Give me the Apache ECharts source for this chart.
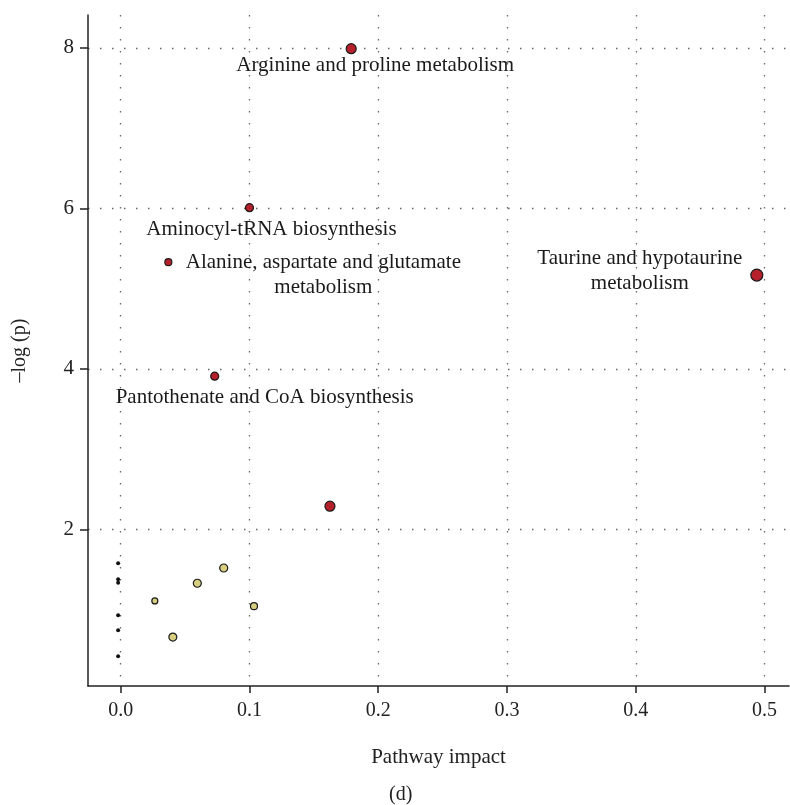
<!DOCTYPE html>
<html>
<head>
<meta charset="utf-8">
<script src="https://cdn.jsdelivr.net/npm/echarts@6/dist/echarts.min.js"></script>
<style>
html,body{margin:0;padding:0;background:#fff;}
#chart{width:790px;height:805px;}
</style>
</head>
<body>
<div id="chart"></div>
<script>
// ---- data ----
const pathwayNames = [
  "Arginine and proline metabolism",
  "Aminocyl-tRNA biosynthesis",
  "Alanine, aspartate and glutamate\nmetabolism",
  "Taurine and hypotaurine\nmetabolism",
  "Pantothenate and CoA biosynthesis",
  "", "", "", "", "", "",
  "", "", "", "", "", ""
];
const pathwayImpact = [0.179, 0.100, 0.037, 0.494, 0.073, 0.1625, 0.080, 0.0595, 0.0265, 0.0405, 0.1035, -0.002, -0.002, -0.002, -0.002, -0.002, -0.002];
const negLogP      = [7.99, 6.01, 5.33, 5.17, 3.91, 2.29, 1.52, 1.33, 1.11, 0.66, 1.045, 1.58, 1.38, 1.335, 0.93, 0.745, 0.42];
const nodeSize     = [10, 8, 7, 12, 8, 10, 8, 8, 6, 8, 7, 4, 4, 4, 4, 4, 4];
const xTicks = [0.0, 0.1, 0.2, 0.3, 0.4, 0.5];
const yTicks = [2, 4, 6, 8];

// ---- presentation ----
const labelOffsets = {
  "Arginine and proline metabolism": [24, 17],
  "Aminocyl-tRNA biosynthesis": [22, 22],
  "Alanine, aspartate and glutamate\nmetabolism": [155, 13],
  "Taurine and hypotaurine\nmetabolism": [-117, -4],
  "Pantothenate and CoA biosynthesis": [50, 21]
};
const RED = '#b5202a', YEL = '#d6cf80';
const FONT = '"Liberation Serif", "DejaVu Serif", serif';

const points = pathwayImpact.map((x, i) => {
  const name = pathwayNames[i];
  const tiny = nodeSize[i] < 5;
  const item = {
    value: [x, negLogP[i]],
    name: name,
    symbolSize: nodeSize[i],
    itemStyle: {
      color: negLogP[i] >= 2 ? RED : (tiny ? '#111' : YEL),
      borderColor: '#1a1a1a',
      borderWidth: tiny ? 0 : 1.2,
      opacity: 1
    }
  };
  if (name) {
    item.label = {
      show: true,
      formatter: name,
      position: 'inside',
      align: 'center',
      verticalAlign: 'middle',
      color: '#1a1a1a',
      fontFamily: FONT,
      fontSize: 21,
      lineHeight: 25
    };
  }
  return item;
});

const chart = echarts.init(document.getElementById('chart'), null, {renderer: 'canvas'});
const axisCommon = {
  axisLine: {show: true, onZero: false, lineStyle: {color: '#222', width: 1.5}},
  splitLine: {show: true, lineStyle: {color: '#666', width: 1.3, type: [1.5, 10.5]}},
};
chart.setOption({
  animation: false,
  backgroundColor: '#fff',
  grid: {left: 88, right: 1, top: 15, bottom: 119, containLabel: false},
  xAxis: Object.assign({}, axisCommon, {
    type: 'value',
    min: -0.0254, max: 0.519,
    name: 'Pathway impact',
    nameLocation: 'middle',
    nameGap: 61,
    nameTextStyle: {fontFamily: FONT, fontSize: 21, color: '#222'},
    axisTick: {show: true, length: 7, inside: false, customValues: xTicks, lineStyle: {color: '#222', width: 1.5}},
    axisLabel: {customValues: xTicks, margin: 15, fontFamily: FONT, fontSize: 20, color: '#222',
      formatter: v => v.toFixed(1)}
  }),
  yAxis: Object.assign({}, axisCommon, {
    type: 'value',
    min: 0.05, max: 8.41,
    name: '\u2013log (p)',
    nameLocation: 'middle',
    nameGap: 58,
    nameRotate: 90,
    nameTextStyle: {fontFamily: FONT, fontSize: 20, color: '#222'},
    axisTick: {show: true, length: 8, inside: false, customValues: yTicks, lineStyle: {color: '#222', width: 1.5}},
    axisLabel: {customValues: yTicks, margin: 14, fontFamily: FONT, fontSize: 21, color: '#222'}
  }),
  graphic: [{
    type: 'text',
    left: 389, top: 785,
    style: {text: '(d)', fontFamily: FONT, fontSize: 20, fill: '#222'}
  }],
  series: [{
    type: 'scatter',
    symbol: 'circle',
    data: points,
    emphasis: {disabled: true},
    labelLayout: function (params) {
      const name = pathwayNames[params.dataIndex];
      const off = labelOffsets[name];
      if (!off) return {};
      return {dx: off[0], dy: off[1], hideOverlap: false};
    }
  }]
});
</script>
</body>
</html>
